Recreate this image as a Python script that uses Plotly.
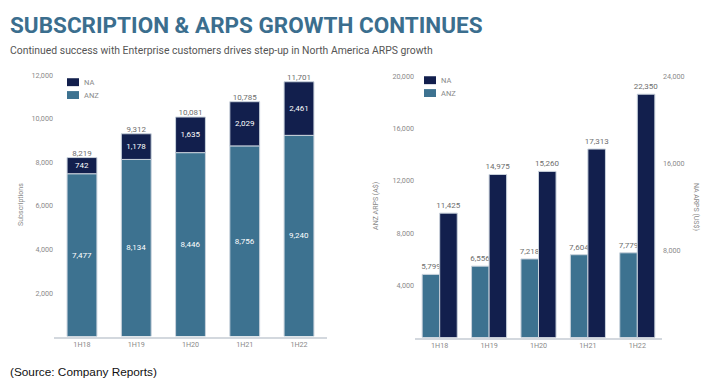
import plotly.graph_objects as go

# ---------------- data ----------------
periods = ["1H18", "1H19", "1H20", "1H21", "1H22"]
subs_anz = [7477, 8134, 8446, 8756, 9240]
subs_na = [742, 1178, 1635, 2029, 2461]
subs_total = [8219, 9312, 10081, 10785, 11701]
arps_anz = [5799, 6556, 7218, 7604, 7779]
arps_na = [11425, 14975, 15260, 17313, 22350]
sub_ticks = [2000, 4000, 6000, 8000, 10000, 12000]
anz_ticks = [4000, 8000, 12000, 16000, 20000]
na_ticks = [8000, 16000, 24000]
series_names = ["NA", "ANZ"]

# ---------------- style ----------------
W, H = 716, 386
TEAL = "#3D7290"
NAVY = "#121F4D"
EDGE = "#C9D2DC"
GREY = "#8A8A8A"
LBL = "#6E6E6E"
FONT = "Roboto, Liberation Sans, sans-serif"
series_colors = {"NA": NAVY, "ANZ": TEAL}


def px(x):
    return x / W


def py(y):
    return 1 - y / H


def fmt(vals):
    return [f"{v:,}" for v in vals]


fig = go.Figure()

# left: subscriptions (stacked)
fig.add_trace(go.Bar(
    x=periods, y=subs_anz, name="ANZ", xaxis="x", yaxis="y",
    width=0.55, offset=-0.275,
    marker=dict(color=TEAL, line=dict(color=EDGE, width=1)),
    text=fmt(subs_anz), textposition="inside", insidetextanchor="middle",
    textfont=dict(color="white", size=8, family=FONT), constraintext="none",
))
fig.add_trace(go.Bar(
    x=periods, y=subs_na, base=subs_anz, name="NA", xaxis="x", yaxis="y",
    width=0.55, offset=-0.275,
    marker=dict(color=NAVY, line=dict(color=EDGE, width=1)),
    text=fmt(subs_na), textposition="inside", insidetextanchor="middle",
    textfont=dict(color="white", size=8, family=FONT), constraintext="none",
))
fig.add_trace(go.Scatter(
    x=periods, y=subs_total, xaxis="x", yaxis="y", mode="text",
    text=fmt(subs_total), textposition="top center",
    textfont=dict(color=LBL, size=8, family=FONT),
    cliponaxis=False, hoverinfo="skip",
))

# right: ARPS (grouped) - drawn against the US$ scale
fig.add_trace(go.Bar(
    x=periods, y=arps_anz, name="ANZ", xaxis="x2", yaxis="y3",
    width=0.355, offset=-0.355,
    marker=dict(color=TEAL, line=dict(color=EDGE, width=1)),
    text=fmt(arps_anz), textposition="outside", constraintext="none",
    textfont=dict(color=LBL, size=8, family=FONT), cliponaxis=False,
))
fig.add_trace(go.Bar(
    x=periods, y=arps_na, name="NA", xaxis="x2", yaxis="y3",
    width=0.355, offset=0,
    marker=dict(color=NAVY, line=dict(color=EDGE, width=1)),
    text=fmt(arps_na), textposition="outside", constraintext="none",
    textfont=dict(color=LBL, size=8, family=FONT), cliponaxis=False,
))
# invisible carrier so the A$ axis subplot exists
fig.add_trace(go.Scatter(
    x=periods, y=arps_anz, xaxis="x2", yaxis="y2", mode="markers",
    marker=dict(opacity=0), hoverinfo="skip",
))

tickfont = dict(size=7.2, color=GREY, family=FONT)
axis_common = dict(showgrid=False, zeroline=False, ticks="", tickfont=tickfont, fixedrange=True)
dom_r = [py(337), py(73)]

fig.update_layout(
    width=W, height=H,
    margin=dict(l=0, r=0, t=0, b=0),
    paper_bgcolor="white", plot_bgcolor="white",
    barmode="overlay", showlegend=False,
    font=dict(family=FONT),
    xaxis=dict(domain=[px(54), px(327)], anchor="y", range=[-0.516, 4.516],
               showline=True, linecolor="#D3D8DE", linewidth=1.5, **axis_common),
    yaxis=dict(domain=[py(336), py(72)], anchor="x", range=[0, 12000],
               tickvals=sub_ticks, tickformat=",d", showline=False, **axis_common),
    xaxis2=dict(domain=[px(415), px(662)], anchor="y2", range=[-0.5, 4.5],
                showline=True, linecolor="#D3D8DE", linewidth=1.5, **axis_common),
    yaxis2=dict(domain=dom_r, anchor="x2", range=[0, 20000], side="left",
                tickvals=anz_ticks, tickformat=",d", showline=False, **axis_common),
    yaxis3=dict(domain=dom_r, overlaying="y2", anchor="x2", side="right", range=[0, 24000],
                tickvals=na_ticks, tickformat=",d", showline=False, **axis_common),
)

ann = [
    dict(text="SUBSCRIPTION & ARPS GROWTH CONTINUES", x=px(8), y=py(6),
         xanchor="left", yanchor="top",
         font=dict(size=22.5, color="#3B6E8E", family="Roboto, sans-serif", weight="bold")),
    dict(text="Continued success with Enterprise customers drives step-up in North America ARPS growth",
         x=px(8), y=py(38), xanchor="left", yanchor="top",
         font=dict(size=10.4, color="#555555", family=FONT)),
    dict(text="(Source: Company Reports)", x=px(8), y=py(372), xanchor="left", yanchor="middle",
         font=dict(size=11.8, color="#111111", family="Liberation Sans, sans-serif")),
    dict(text="Subscriptions", x=px(15), y=py(203), textangle=-90,
         font=dict(size=7, color=GREY, family=FONT)),
    dict(text="ANZ ARPS (A$)", x=px(376), y=py(204), textangle=-90,
         font=dict(size=7, color=GREY, family=FONT)),
    dict(text="NA ARPS (US$)", x=px(702), y=py(205), textangle=90,
         font=dict(size=7, color=GREY, family=FONT)),
]

# legends (swatch + label)
shapes = []
legend_spots = [(67, 75), (424, 73)]
for lx, ly in legend_spots:
    for i, nm in enumerate(series_names):
        top = ly + i * 13
        shapes.append(dict(type="rect", xref="paper", yref="paper",
                           x0=px(lx), x1=px(lx + 12), y0=py(top + 8), y1=py(top),
                           fillcolor=series_colors[nm], line=dict(width=0)))
        ann.append(dict(text=nm, x=px(lx + 15), y=py(top + 4), xanchor="left", yanchor="middle",
                        font=dict(size=7.5, color=GREY, family=FONT)))

for a in ann:
    a.update(xref="paper", yref="paper", showarrow=False)
fig.update_layout(annotations=ann, shapes=shapes)

fig.write_html("out.html", config={"displayModeBar": False},
               post_script="document.body.style.margin='0';")
